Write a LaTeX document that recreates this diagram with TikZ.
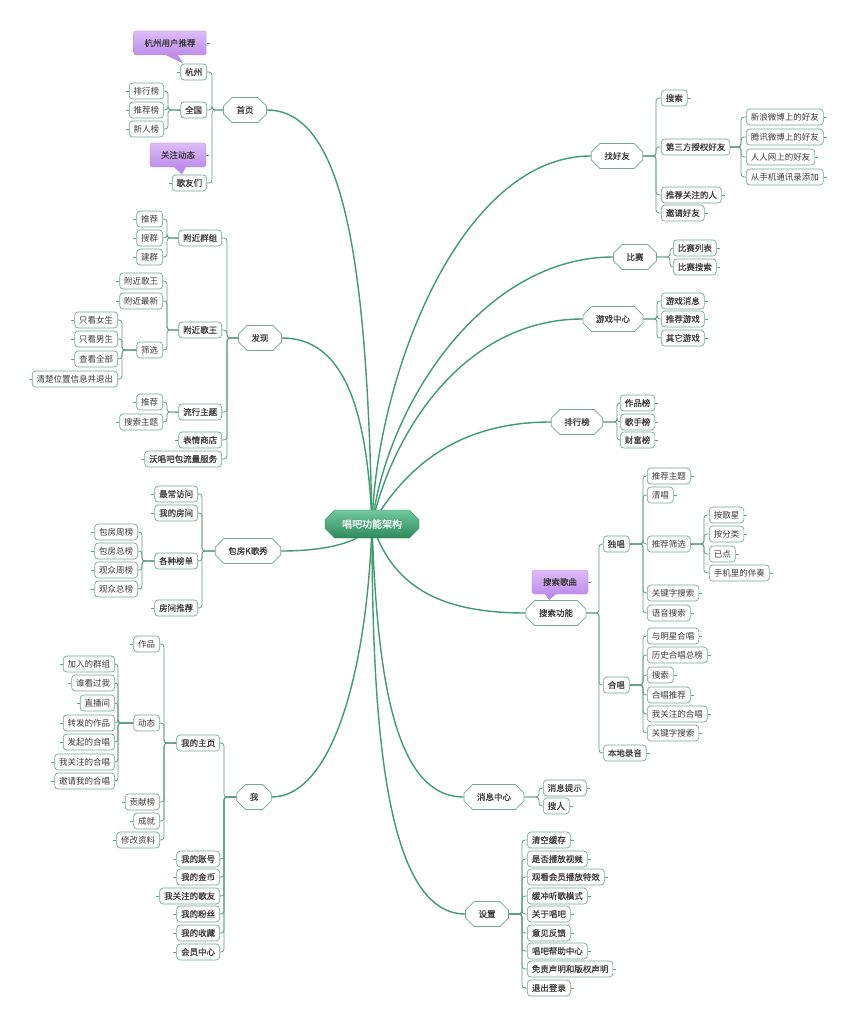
\documentclass[tikz,border=0pt]{standalone}
\usepackage{fontspec}
\setmainfont{Noto Sans CJK SC}[BoldFont={Noto Sans CJK SC}, BoldFeatures={FakeBold=0.5}]
\usetikzlibrary{shapes.misc,backgrounds}
\definecolor{limbc}{HTML}{3F9B72}
\definecolor{twigc}{HTML}{5E9E80}
\definecolor{boxc}{HTML}{74A98E}
\definecolor{rootdark}{HTML}{2E8A5C}
\definecolor{rootlight}{HTML}{72C9A0}
\definecolor{notetop}{HTML}{DDBDF8}
\definecolor{notebot}{HTML}{BE8DEC}
\definecolor{notedraw}{HTML}{B083E2}
\definecolor{textc}{HTML}{3A3A3A}

\begin{document}
\begin{tikzpicture}[
    x=1pt, y=-1pt,
    limb/.style={draw=limbc, line width=1.4pt},
    twig/.style={draw=twigc, line width=0.8pt, rounded corners=3pt},
    stub/.style={draw=twigc, line width=0.6pt},
    root/.style={chamfered rectangle, chamfered rectangle xsep=6pt,
      top color=rootlight, bottom color=rootdark, draw=rootdark,
      text=white, font=\fontsize{10}{12}\selectfont\bfseries,
      inner xsep=11pt, minimum height=28pt},
    topic/.style={chamfered rectangle, chamfered rectangle xsep=5pt,
      draw=boxc, fill=white, line width=0.8pt, text=textc,
      font=\fontsize{8.5}{10}\selectfont\bfseries, inner xsep=8pt, minimum height=25pt},
    leaf/.style={rounded corners=3.5pt, draw=boxc, fill=white, line width=0.7pt,
      text=textc, font=\fontsize{8.5}{10}\selectfont, inner xsep=4.5pt,
      inner ysep=0pt, minimum height=16pt},
    strong/.append style={font=\fontsize{8.5}{10}\selectfont\bfseries},
    ll/.style={leaf, anchor=east,
      append after command={(\tikzlastnode.west) edge[stub] ([xshift=-3pt]\tikzlastnode.west)}},
    rl/.style={leaf, anchor=west,
      append after command={(\tikzlastnode.east) edge[stub] ([xshift=3pt]\tikzlastnode.east)}},
    note/.style={rounded corners=3pt, top color=notetop, bottom color=notebot,
      draw=notedraw, text=textc, font=\fontsize{8.5}{10}\selectfont\bfseries,
      inner xsep=11pt, minimum height=24pt,
      append after command={(\tikzlastnode.east) edge[stub] ([xshift=3pt]\tikzlastnode.east)}}
  ]
  \useasboundingbox (0,0) rectangle (854,1024);

  % Root and topics
  \node[root] (root) at (372,524) {唱吧功能架构};
  \node[topic] (sy) at (245,110) {首页};
  \node[topic] (fx) at (260,338) {发现};
  \node[topic] (bf) at (248,551) {包房K歌秀};
  \node[topic] (wo) at (254,797) {我};
  \node[topic] (zhy) at (617,156) {找好友};
  \node[topic] (bs) at (635,257) {比赛};
  \node[topic] (yx) at (613,319) {游戏中心};
  \node[topic] (ph) at (577,422) {排行榜};
  \node[topic] (ssgn) at (556,613) {搜索功能};
  \node[topic] (xxzx) at (494,797) {消息中心};
  \node[topic] (sz) at (487,914) {设置};

  % 首页
  \node[ll,strong] (hz) at (207,72) {杭州};
  \node[ll,strong] (qg) at (207,110) {全国};
  \node[ll,strong] (gym) at (207,183) {歌友们};
  \node[ll] (phb) at (164,91) {排行榜};
  \node[ll] (tjb) at (164,110) {推荐榜};
  \node[ll] (xrb) at (164,129) {新人榜};
  \node[note] (hzn) at (170,43) {杭州用户推荐};
  \node[note] (gzn) at (178,155) {关注动态};

  % 发现
  \node[ll,strong] (fjqz) at (222,238) {附近群组};
  \node[ll,strong] (fjgw) at (222,330) {附近歌王};
  \node[ll,strong] (lxzt) at (222,412) {流行主题};
  \node[ll,strong] (bqsd) at (222,440) {表情商店};
  \node[ll,strong] (wcb) at (222,459) {沃唱吧包流量服务};
  \node[ll] (tja) at (163,219) {推荐};
  \node[ll] (sq) at (163,238) {搜群};
  \node[ll] (jq) at (163,257) {建群};
  \node[ll] (fjgwb) at (163,281) {附近歌王};
  \node[ll] (fjzx) at (163,301) {附近最新};
  \node[ll] (sx) at (163,350) {筛选};
  \node[ll] (zkns) at (118,320) {只看女生};
  \node[ll] (zkna) at (118,339) {只看男生};
  \node[ll] (ckqb) at (118,359) {查看全部};
  \node[ll] (qcwz) at (118,379) {清楚位置信息并退出};
  \node[ll] (tjb2) at (163,402) {推荐};
  \node[ll] (sszt) at (163,422) {搜索主题};

  % 包房K歌秀
  \node[ll,strong] (zcfw) at (198,494) {最常访问};
  \node[ll,strong] (wdfj) at (198,513) {我的房间};
  \node[ll,strong] (gzbd) at (198,561) {各种榜单};
  \node[ll,strong] (fjtj) at (198,608) {房间推荐};
  \node[ll] (bfzb) at (138,532) {包房周榜};
  \node[ll] (bfzo) at (138,551) {包房总榜};
  \node[ll] (gzzb) at (138,570) {观众周榜};
  \node[ll] (gzzo) at (138,589) {观众总榜};

  % 我
  \node[ll,strong] (wdzy) at (220,743) {我的主页};
  \node[ll,strong] (wdzh) at (220,859) {我的账号};
  \node[ll,strong] (wdjb) at (220,877) {我的金币};
  \node[ll,strong] (wgzgy) at (220,896) {我关注的歌友};
  \node[ll,strong] (wdfs) at (220,914) {我的粉丝};
  \node[ll,strong] (wdsc) at (220,933) {我的收藏};
  \node[ll,strong] (hyzx) at (220,952) {会员中心};
  \node[ll] (zp) at (160,644) {作品};
  \node[ll] (dt) at (160,723) {动态};
  \node[ll] (gxb) at (160,802) {贡献榜};
  \node[ll] (cj) at (160,821) {成就};
  \node[ll] (xgzl) at (160,840) {修改资料};
  \node[ll] (jrqz) at (115,664) {加入的群组};
  \node[ll] (skgw) at (115,683) {谁看过我};
  \node[ll] (zbj) at (115,703) {直播间};
  \node[ll] (zfzp) at (115,723) {转发的作品};
  \node[ll] (fqhc) at (115,742) {发起的合唱};
  \node[ll] (wgzhc) at (115,762) {我关注的合唱};
  \node[ll] (yqhc) at (115,781) {邀请我的合唱};

  % 找好友, 比赛, 游戏中心, 排行榜
  \node[rl,strong] (ssa) at (661,98) {搜索};
  \node[rl,strong] (dsf) at (661,147) {第三方授权好友};
  \node[rl,strong] (tjgz) at (661,195) {推荐关注的人};
  \node[rl,strong] (yqhy) at (661,213) {邀请好友};
  \node[rl] (xlwb) at (746,117) {新浪微博上的好友};
  \node[rl] (txwb) at (746,137) {腾讯微博上的好友};
  \node[rl] (rrw) at (746,157) {人人网上的好友};
  \node[rl] (sjtx) at (746,177) {从手机通讯录添加};
  \node[rl,strong] (bslb) at (673,248) {比赛列表};
  \node[rl,strong] (bsss) at (673,267) {比赛搜索};
  \node[rl,strong] (yxxx) at (661,301) {游戏消息};
  \node[rl,strong] (tjyx) at (661,319) {推荐游戏};
  \node[rl,strong] (qtyx) at (661,338) {其它游戏};
  \node[rl,strong] (zpb) at (620,403) {作品榜};
  \node[rl,strong] (gsb) at (620,422) {歌手榜};
  \node[rl,strong] (cfb) at (620,440) {财富榜};

  % 搜索功能
  \node[note] (ssgq) at (560,582) {搜索歌曲};
  \node[rl,strong] (dc) at (603,544) {独唱};
  \node[rl,strong] (hc) at (603,685) {合唱};
  \node[rl,strong] (bdly) at (603,753) {本地录音};
  \node[rl] (tjzt) at (647,476) {推荐主题};
  \node[rl] (qc) at (647,495) {清唱};
  \node[rl] (tjsx) at (647,544) {推荐筛选};
  \node[rl] (gjza) at (647,593) {关键字搜索};
  \node[rl] (yyss) at (647,613) {语音搜索};
  \node[rl] (agx) at (709,515) {按歌星};
  \node[rl] (afl) at (709,534) {按分类};
  \node[rl] (yd) at (709,554) {已点};
  \node[rl] (sjbz) at (709,573) {手机里的伴奏};
  \node[rl] (ymx) at (647,636) {与明星合唱};
  \node[rl] (lshc) at (647,655) {历史合唱总榜};
  \node[rl] (ssb) at (647,675) {搜索};
  \node[rl] (hctj) at (647,695) {合唱推荐};
  \node[rl] (wgzb) at (647,714) {我关注的合唱};
  \node[rl] (gjzb) at (647,733) {关键字搜索};

  % 消息中心, 设置
  \node[rl,strong] (xxts) at (543,788) {消息提示};
  \node[rl,strong] (sr) at (543,806) {搜人};
  \node[rl,strong] (qkhc) at (527,840) {清空缓存};
  \node[rl,strong] (sfbf) at (527,859) {是否播放视频};
  \node[rl,strong] (gkhy) at (527,877) {观看会员播放特效};
  \node[rl,strong] (hcms) at (527,896) {缓冲听歌模式};
  \node[rl,strong] (gycb) at (527,914) {关于唱吧};
  \node[rl,strong] (yjfk) at (527,933) {意见反馈};
  \node[rl,strong] (cbbz) at (527,951) {唱吧帮助中心};
  \node[rl,strong] (mzsm) at (527,969) {免责声明和版权声明};
  \node[rl,strong] (tcdl) at (527,988) {退出登录};

  % Callout pointers
  \fill[notebot] ([xshift=-4pt]hzn.south) -- ([xshift=8pt]hzn.south) -- ([xshift=3pt]hz.north west) -- cycle;
  \fill[notebot] ([xshift=-4pt]gzn.south) -- ([xshift=8pt]gzn.south) -- ([xshift=10pt]gym.north west) -- cycle;
  \fill[notebot] ([xshift=-15pt]ssgq.south) -- ([xshift=-4pt]ssgq.south) -- ([xshift=-7pt]ssgn.north) -- cycle;

  \begin{pgfonlayer}{background}
    \fill[white] (0,0) rectangle (854,1024);
    % Main branches
    \draw[limb] (root.center) .. controls +(-5,-250) and +(80,0) .. (sy.east);
    \draw[limb] (root.center) .. controls +(-5,-120) and +(60,0) .. (fx.east);
    \draw[limb] (root.center) .. controls +(-10,20) and +(40,0) .. (bf.east);
    \draw[limb] (root.center) .. controls +(-5,150) and +(60,0) .. (wo.east);
    \draw[limb] (root.center) .. controls +(5,-150) and +(-130,0) .. (zhy.west);
    \draw[limb] (root.center) .. controls +(15,-120) and +(-130,0) .. (bs.west);
    \draw[limb] (root.center) .. controls +(20,-90) and +(-120,0) .. (yx.west);
    \draw[limb] (root.center) .. controls +(30,-50) and +(-100,0) .. (ph.west);
    \draw[limb] (root.center) .. controls +(20,60) and +(-90,0) .. (ssgn.west);
    \draw[limb] (root.center) .. controls +(5,150) and +(-70,0) .. (xxzx.west);
    \draw[limb] (root.center) .. controls +(0,200) and +(-80,0) .. (sz.west);

    % Left twigs
    \foreach \k in {hz,qg,gym} \draw[twig] (sy.west) -| ([xshift=5pt]\k.east) -- (\k.east);
    \foreach \k in {phb,tjb,xrb} \draw[twig] (qg.west) -| ([xshift=4pt]\k.east) -- (\k.east);
    \foreach \k in {fjqz,fjgw,lxzt,bqsd,wcb} \draw[twig] (fx.west) -| ([xshift=5pt]\k.east) -- (\k.east);
    \foreach \k in {tja,sq,jq} \draw[twig] (fjqz.west) -| ([xshift=4pt]\k.east) -- (\k.east);
    \foreach \k in {fjgwb,fjzx,sx} \draw[twig] (fjgw.west) -| ([xshift=4pt]\k.east) -- (\k.east);
    \foreach \k in {zkns,zkna,ckqb,qcwz} \draw[twig] (sx.west) -| ([xshift=4pt]\k.east) -- (\k.east);
    \foreach \k in {tjb2,sszt} \draw[twig] (lxzt.west) -| ([xshift=4pt]\k.east) -- (\k.east);
    \foreach \k in {zcfw,wdfj,gzbd,fjtj} \draw[twig] (bf.west) -| ([xshift=4pt]\k.east) -- (\k.east);
    \foreach \k in {bfzb,bfzo,gzzb,gzzo} \draw[twig] (gzbd.west) -| ([xshift=4pt]\k.east) -- (\k.east);
    \foreach \k in {wdzy,wdzh,wdjb,wgzgy,wdfs,wdsc,hyzx} \draw[twig] (wo.west) -| ([xshift=4pt]\k.east) -- (\k.east);
    \foreach \k in {zp,dt,gxb,cj,xgzl} \draw[twig] (wdzy.west) -| ([xshift=4pt]\k.east) -- (\k.east);
    \foreach \k in {jrqz,skgw,zbj,zfzp,fqhc,wgzhc,yqhc} \draw[twig] (dt.west) -| ([xshift=3pt]\k.east) -- (\k.east);

    % Right twigs
    \foreach \k in {ssa,dsf,tjgz,yqhy} \draw[twig] (zhy.east) -| ([xshift=-5pt]\k.west) -- (\k.west);
    \foreach \k in {xlwb,txwb,rrw,sjtx} \draw[twig] (dsf.east) -| ([xshift=-5pt]\k.west) -- (\k.west);
    \foreach \k in {bslb,bsss} \draw[twig] (bs.east) -| ([xshift=-3pt]\k.west) -- (\k.west);
    \foreach \k in {yxxx,tjyx,qtyx} \draw[twig] (yx.east) -| ([xshift=-4pt]\k.west) -- (\k.west);
    \foreach \k in {zpb,gsb,cfb} \draw[twig] (ph.east) -| ([xshift=-3pt]\k.west) -- (\k.west);
    \foreach \k in {dc,hc,bdly} \draw[twig] (ssgn.east) -| ([xshift=-4pt]\k.west) -- (\k.west);
    \foreach \k in {tjzt,qc,tjsx,gjza,yyss} \draw[twig] (dc.east) -| ([xshift=-4pt]\k.west) -- (\k.west);
    \foreach \k in {agx,afl,yd,sjbz} \draw[twig] (tjsx.east) -| ([xshift=-5pt]\k.west) -- (\k.west);
    \foreach \k in {ymx,lshc,ssb,hctj,wgzb,gjzb} \draw[twig] (hc.east) -| ([xshift=-4pt]\k.west) -- (\k.west);
    \foreach \k in {xxts,sr} \draw[twig] (xxzx.east) -| ([xshift=-4pt]\k.west) -- (\k.west);
    \foreach \k in {qkhc,sfbf,gkhy,hcms,gycb,yjfk,cbbz,mzsm,tcdl} \draw[twig] (sz.east) -| ([xshift=-5pt]\k.west) -- (\k.west);
  \end{pgfonlayer}
\end{tikzpicture}
\end{document}
